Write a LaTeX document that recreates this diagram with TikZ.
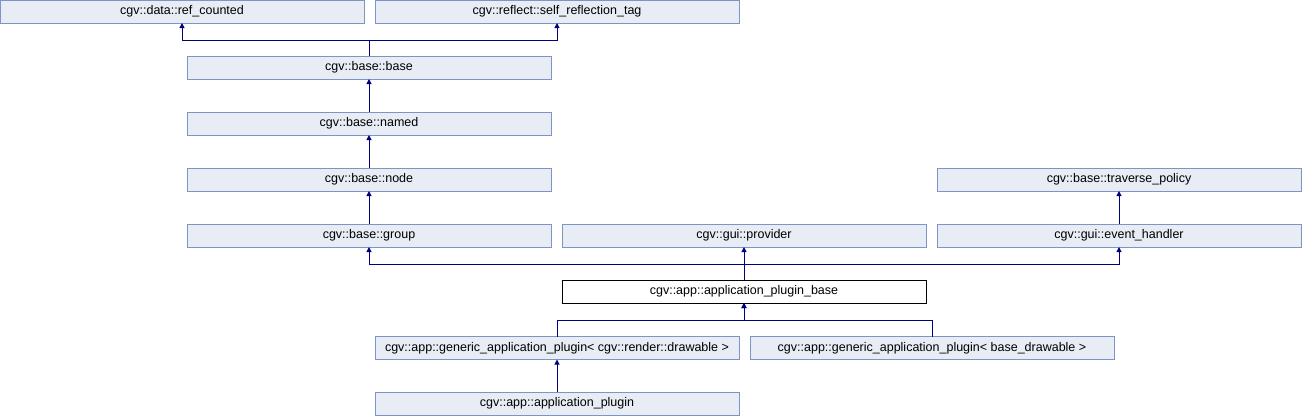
\documentclass[tikz,border=0pt]{standalone}
\usepackage{fontspec}
\setmainfont{Liberation Sans}
\usetikzlibrary{arrows.meta}
\definecolor{boxfill}{HTML}{E8ECF5}
\definecolor{boxdraw}{HTML}{7C95C6}
\definecolor{linkcol}{HTML}{000080}
\tikzset{
  cls/.style={draw=boxdraw, fill=boxfill, line width=1pt, minimum width=364pt, minimum height=23pt,
    inner sep=0pt, outer sep=0pt, font=\fontsize{12.5}{14}\selectfont, anchor=center},
  cur/.style={cls, draw=black, fill=white},
  arr/.style={draw=linkcol, line width=1pt, -{Triangle[length=5pt,width=5pt]}}
}
\begin{document}
\begin{tikzpicture}[x=1pt,y=-1pt]
\useasboundingbox (0,0) rectangle (1302,416);
\node[cls] (ref) at (182,11.5) {cgv::data::ref\_counted};
\node[cls] (refl) at (557,11.5) {cgv::reflect::self\_reflection\_tag};
\node[cls] (base) at (369,67.5) {cgv::base::base};
\node[cls] (named) at (369,123.5) {cgv::base::named};
\node[cls] (nd) at (369,179.5) {cgv::base::node};
\node[cls] (trav) at (1119,179.5) {cgv::base::traverse\_policy};
\node[cls] (group) at (369,235.5) {cgv::base::group};
\node[cls] (prov) at (744,235.5) {cgv::gui::provider};
\node[cls] (evh) at (1119,235.5) {cgv::gui::event\_handler};
\node[cur] (apb) at (744,291.5) {cgv::app::application\_plugin\_base};
\node[cls] (gen1) at (557,348) {cgv::app::generic\_application\_plugin< cgv::render::drawable >};
\node[cls] (gen2) at (932,348) {cgv::app::generic\_application\_plugin< base\_drawable >};
\node[cls] (ap) at (557,403.5) {cgv::app::application\_plugin};

\draw[arr] (base.north) -- ++(0,-16) -| (ref.south);
\draw[arr] (base.north) -- ++(0,-16) -| (refl.south);
\draw[arr] (named.north) -- (base.south);
\draw[arr] (nd.north) -- (named.south);
\draw[arr] (group.north) -- (nd.south);
\draw[arr] (evh.north) -- (trav.south);
\draw[arr] (apb.north) -- ++(0,-16) -| (group.south);
\draw[arr] (apb.north) -- (prov.south);
\draw[arr] (apb.north) -- ++(0,-16) -| (evh.south);
\draw[arr] (gen1.north) -- ++(0,-16.5) -| (apb.south);
\draw[arr] (gen2.north) -- ++(0,-16.5) -| (apb.south);
\draw[arr] (ap.north) -- (gen1.south);
\end{tikzpicture}
\end{document}
